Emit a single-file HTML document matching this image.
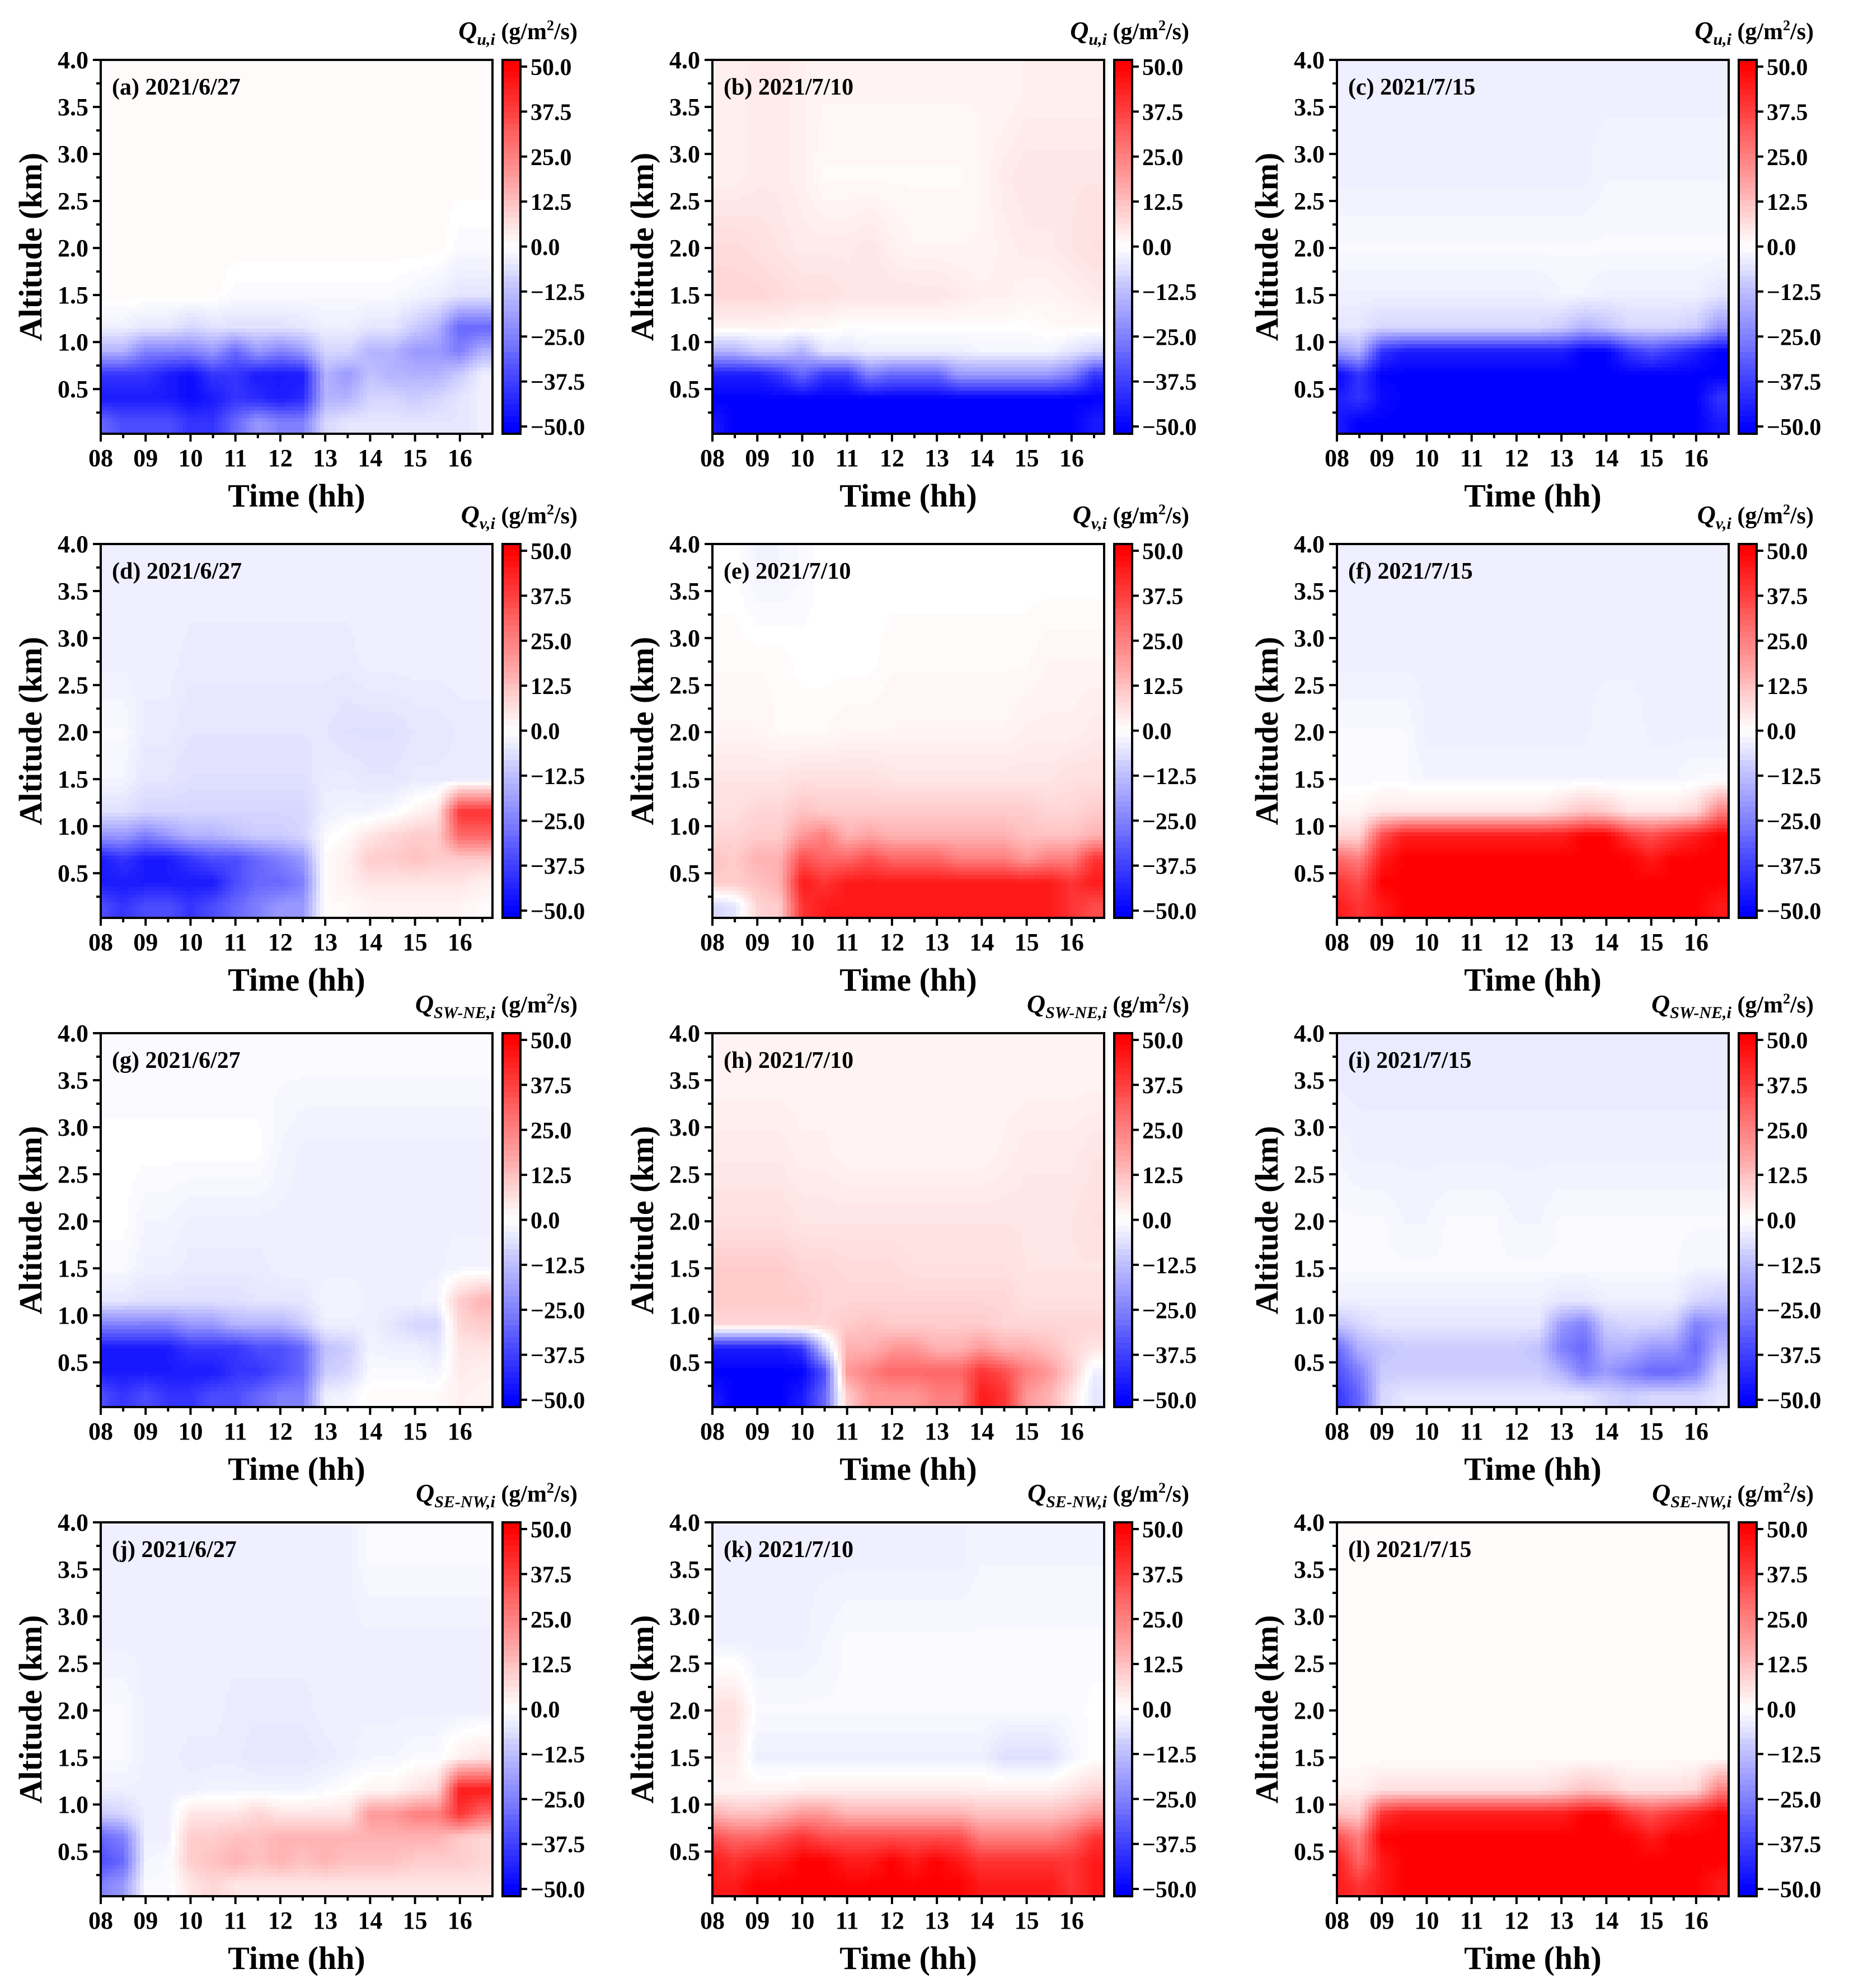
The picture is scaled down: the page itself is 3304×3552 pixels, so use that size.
<!DOCTYPE html>
<html><head><meta charset="utf-8">
<style>
html,body{margin:0;padding:0;background:#fff;}
svg{display:block;}
text{font-family:"Liberation Serif","Times New Roman",serif;font-weight:bold;fill:#000;}
</style></head>
<body>
<svg id="fig" width="3304" height="3552" viewBox="0 0 3304 3552" xmlns="http://www.w3.org/2000/svg"></svg>
<script>
const times=[8,8.5,9,9.5,10,10.5,11,11.5,12,12.5,13,13.5,14,14.5,15,15.5,16,16.5];
const alts=[0.15,0.4,0.65,0.9,1.15,1.5,2.0,2.75,3.6];
const xTickLabels=['08','09','10','11','12','13','14','15','16'];
const yTickLabels=['0.5','1.0','1.5','2.0','2.5','3.0','3.5','4.0'];
const cbTickValues=[50,37.5,25,12.5,0,-12.5,-25,-37.5,-50];
const cbTickLabels=['50.0','37.5','25.0','12.5','0.0','\u221212.5','\u221225.0','\u221237.5','\u221250.0'];
const dates=['2021/6/27','2021/7/10','2021/7/15'];
const fluxSubs=['u,i','v,i','SW-NE,i','SE-NW,i'];

const quJun27=[
[-30,-35,-35,-35,-40,-40,-30,-20,-25,-25,-8,-5,-5,-5,-5,-5,-5,-3],
[-45,-45,-45,-45,-48,-45,-40,-42,-45,-42,-15,-15,-8,-8,-10,-8,-5,-3],
[-40,-40,-40,-45,-48,-40,-40,-45,-45,-45,-15,-20,-12,-15,-15,-15,-10,-3],
[-15,-15,-25,-25,-25,-20,-30,-20,-25,-20,-8,-8,-15,-15,-20,-20,-25,-15],
[-3,-3,-5,-5,-8,-6,-6,-6,-6,-5,-3,-3,-5,-5,-10,-15,-30,-30],
[1,1,1,1,1,1,-1,-1,-1,-1,-1,-1,-1,-1,-2,-3,-5,-5],
[1,1,1,1,1,1,1,1,1,1,1,1,1,1,1,1,-1,-1],
[1,1,1,1,1,1,1,1,1,1,1,1,1,1,1,1,1,1],
[1,1,1,1,1,1,1,1,1,1,1,1,1,1,1,1,1,1]];
const quJul10=[
[-45,-50,-50,-50,-50,-50,-50,-50,-50,-50,-50,-50,-50,-50,-50,-50,-50,-45],
[-50,-50,-50,-50,-50,-50,-50,-50,-50,-50,-50,-50,-50,-50,-50,-50,-50,-50],
[-45,-45,-45,-40,-30,-40,-40,-25,-30,-30,-30,-20,-20,-20,-20,-20,-25,-40],
[-15,-15,-10,-10,-15,-5,-5,-3,-3,-3,-3,-3,-2,-2,-2,-2,-5,-8],
[2,2,2,2,1,1,0,0,0,0,0,0,0,0,0,1,1,1],
[8,8,8,7,6,6,5,5,5,5,5,4,3,3,2,2,3,4],
[7,7,6,5,4,4,4,5,3,2,2,2,2,3,4,4,5,6],
[3,3,4,4,3,1,1,1,1,1,1,1,2,4,5,5,5,5],
[3,3,4,4,3,2,2,2,2,2,2,2,2,2,3,3,3,3]];
const quJul15=[
[-45,-50,-50,-50,-50,-50,-50,-50,-50,-50,-50,-50,-50,-50,-50,-50,-50,-45],
[-45,-40,-48,-50,-50,-50,-50,-50,-50,-50,-50,-50,-50,-50,-50,-50,-50,-40],
[-50,-40,-50,-50,-50,-50,-50,-50,-50,-50,-50,-50,-50,-50,-50,-50,-50,-50],
[-20,-15,-40,-45,-45,-45,-45,-45,-45,-45,-45,-50,-50,-40,-35,-40,-45,-50],
[-5,-5,-8,-8,-8,-8,-8,-8,-8,-8,-10,-15,-12,-8,-8,-8,-10,-20],
[-3,-3,-3,-3,-3,-3,-3,-3,-3,-3,-2,-2,-3,-3,-3,-3,-3,-5],
[-1,-1,-1,-1,-1,-1,-1,-1,-1,-1,-1,-1,-1,-1,-1,-1,-1,-1],
[-3,-3,-3,-3,-3,-3,-3,-3,-3,-3,-3,-3,-2,-2,-2,-2,-2,-2],
[-3,-3,-3,-3,-3,-3,-3,-3,-3,-3,-3,-3,-3,-3,-3,-3,-3,-3]];
const qvJun27=[
[-35,-40,-35,-35,-40,-35,-30,-25,-20,-20,1,1,2,2,2,2,2,1],
[-45,-45,-45,-45,-45,-45,-35,-30,-30,-25,1,3,5,5,5,5,5,3],
[-45,-40,-45,-45,-40,-35,-35,-30,-25,-20,1,3,10,10,12,10,10,10],
[-20,-20,-25,-20,-15,-15,-12,-10,-10,-8,-1,1,5,8,10,10,30,30],
[-6,-6,-8,-8,-8,-8,-8,-8,-8,-8,-3,-2,-2,-1,2,5,40,40],
[-2,-2,-5,-5,-6,-6,-6,-6,-6,-6,-4,-4,-5,-5,-4,-4,-4,-4],
[-1,-1,-4,-4,-5,-5,-5,-5,-5,-5,-5,-6,-6,-6,-5,-5,-4,-4],
[-3,-3,-3,-3,-4,-4,-4,-4,-4,-4,-4,-4,-3,-3,-3,-3,-3,-3],
[-3,-3,-3,-3,-3,-3,-3,-3,-3,-3,-3,-3,-3,-3,-3,-3,-3,-3]];
const qvJul10=[
[-8,-5,8,10,40,45,45,45,45,45,45,45,45,45,45,45,40,35],
[10,10,12,15,45,40,45,45,45,45,45,45,45,45,45,45,40,45],
[12,10,15,15,35,30,30,35,30,30,30,25,25,25,20,25,25,40],
[8,8,10,10,20,25,15,18,15,15,15,15,15,15,12,12,12,15],
[6,6,8,8,12,10,10,10,10,10,10,10,10,10,10,8,8,10],
[5,5,5,5,6,6,6,6,5,5,5,5,5,5,5,5,6,6],
[2,2,2,1,1,1,2,2,2,2,2,2,2,2,3,3,3,4],
[1,1,1,1,0,0,0,0,1,1,1,1,1,1,1,2,2,2],
[0,0,-2,-2,-1,0,0,0,0,0,0,0,0,0,0,0,0,0]];
const qvJul15=[
[45,40,45,50,50,50,50,50,50,50,50,50,50,50,50,50,50,45],
[40,35,50,50,50,50,50,50,50,50,50,50,50,50,50,50,50,50],
[30,25,45,50,50,50,50,50,50,50,50,50,50,50,45,50,50,50],
[8,8,35,45,45,45,45,45,45,45,45,50,50,40,35,40,45,50],
[2,2,5,5,5,5,5,5,5,5,8,12,10,5,5,5,8,25],
[-1,-1,-1,-1,-2,-2,-2,-2,-2,-2,-2,-2,-2,-2,-2,-2,-1,-1],
[-1,-1,-1,-1,-3,-3,-3,-3,-3,-3,-3,-3,-2,-2,-3,-3,-3,-3],
[-3,-3,-3,-3,-3,-3,-3,-3,-3,-3,-3,-3,-3,-3,-3,-3,-3,-3],
[-3,-3,-3,-3,-3,-3,-3,-3,-3,-3,-3,-3,-3,-3,-3,-3,-3,-3]];
const qswJun27=[
[-35,-40,-35,-40,-40,-35,-35,-30,-25,-25,-3,-2,1,1,1,1,3,2],
[-45,-45,-45,-45,-45,-45,-40,-40,-35,-30,-10,-8,-1,-1,-1,-2,4,3],
[-45,-45,-45,-45,-40,-40,-40,-35,-35,-30,-12,-10,-2,-3,-3,-5,5,5],
[-25,-25,-25,-25,-20,-20,-15,-15,-15,-10,-3,-3,-3,-5,-8,-8,8,10],
[-5,-5,-6,-6,-6,-6,-6,-5,-5,-5,-2,-2,-3,-3,-3,-2,10,15],
[-1,-1,-3,-3,-4,-4,-4,-4,-3,-3,-3,-3,-3,-3,-3,-3,-2,-2],
[0,0,-2,-2,-3,-3,-3,-3,-3,-3,-3,-3,-3,-3,-3,-3,-3,-3],
[0,0,0,0,0,0,0,0,-2,-3,-3,-3,-3,-3,-3,-3,-3,-3],
[-1,-1,-1,-1,-1,-1,-1,-1,-1,-1,-1,-1,-1,-1,-1,-1,-1,-1]];
const qswJul10=[
[-45,-50,-50,-50,-45,-30,10,20,20,20,25,25,45,40,20,15,5,-5],
[-50,-50,-50,-50,-50,-35,20,25,30,30,30,30,40,35,25,20,10,-3],
[-45,-45,-45,-45,-40,-10,15,15,20,20,15,15,20,15,15,12,8,5],
[8,8,8,8,8,8,10,12,10,10,10,10,10,8,8,8,8,8],
[10,10,10,10,10,8,8,8,8,8,8,8,8,8,6,6,6,6],
[10,10,10,10,8,8,7,7,7,6,6,6,6,6,5,5,5,5],
[6,6,6,6,5,5,5,5,5,5,5,5,5,5,5,5,5,6],
[4,4,4,4,3,3,2,2,2,2,2,2,2,3,4,4,4,5],
[2,2,2,2,2,2,2,2,2,2,2,2,2,2,2,2,2,2]];
const qswJul15=[
[-40,-30,-8,-5,-5,-5,-5,-5,-5,-5,-5,-5,-8,-10,-8,-8,-8,-5],
[-35,-25,-10,-10,-10,-10,-10,-10,-10,-10,-15,-25,-20,-25,-30,-30,-25,-8],
[-30,-15,-12,-10,-10,-10,-10,-10,-10,-12,-25,-30,-15,-15,-20,-20,-30,-15],
[-12,-8,-5,-5,-5,-5,-5,-5,-5,-5,-20,-25,-10,-8,-8,-10,-25,-20],
[-3,-3,-3,-3,-3,-3,-3,-3,-3,-3,-5,-5,-3,-3,-3,-3,-8,-10],
[-1,-1,-1,-1,-1,-1,-1,-1,-1,-1,-1,-1,-1,-1,-1,-1,-2,-2],
[-1,-1,-1,-2,-2,-1,-1,-1,-2,-2,-1,-1,-1,-1,-1,-1,-1,-1],
[-2,-3,-3,-3,-3,-3,-3,-3,-3,-3,-3,-3,-3,-3,-3,-3,-3,-3],
[-4,-4,-4,-4,-4,-4,-4,-4,-4,-4,-4,-4,-4,-4,-4,-4,-4,-4]];
const qseJun27=[
[-25,-20,-1,-1,5,8,5,5,5,5,5,5,5,5,5,5,5,5],
[-35,-30,-2,-1,10,12,15,12,15,12,15,12,12,12,10,10,10,8],
[-30,-25,-3,-3,10,10,12,12,15,15,15,15,15,15,15,15,10,8],
[-10,-8,-3,-3,5,5,5,8,5,5,5,5,20,20,25,25,40,30],
[-3,-3,-3,-3,-3,-2,-2,-2,-2,-2,-1,0,2,2,5,8,45,45],
[-1,-1,-3,-3,-4,-4,-4,-5,-5,-5,-4,-3,-2,-2,-1,-1,3,5],
[-1,-1,-3,-3,-3,-3,-4,-4,-4,-4,-3,-3,-3,-3,-3,-3,-3,-3],
[-3,-3,-3,-3,-3,-3,-3,-3,-3,-3,-3,-3,-3,-3,-3,-3,-3,-3],
[-3,-3,-3,-3,-3,-3,-3,-3,-3,-3,-3,-3,-1,-1,-1,-1,-1,-1]];
const qseJul10=[
[45,45,50,50,50,50,50,50,50,50,50,50,45,45,45,45,40,45],
[45,40,45,45,50,50,45,45,50,45,50,45,40,40,40,40,40,45],
[35,30,30,35,40,35,35,35,35,35,35,35,25,25,25,25,30,40],
[15,12,12,15,20,20,15,15,15,15,15,15,12,12,12,12,15,20],
[2,2,2,2,3,3,3,3,3,3,3,3,3,3,3,3,5,8],
[4,4,-3,-3,-3,-3,-3,-3,-3,-3,-3,-3,-3,-6,-6,-6,-2,0],
[6,6,-1,-1,-1,-1,-1,-1,-1,-1,-1,-1,-1,-1,-1,-1,-1,0],
[-3,-3,-3,-3,-3,-2,-1,-1,-1,-1,-1,-1,-1,-1,-1,-1,-1,-1],
[-3,-3,-3,-3,-3,-3,-3,-3,-3,-3,-3,-3,-2,-2,-2,-2,-2,-2]];
const qseJul15=[
[45,40,45,50,50,50,50,50,50,50,50,50,50,50,50,50,50,45],
[45,30,45,50,50,50,50,50,50,50,50,50,50,50,50,50,50,50],
[35,25,50,50,50,50,50,50,50,50,50,50,50,50,45,50,50,50],
[12,10,40,45,45,45,45,45,45,45,45,50,50,40,35,40,45,50],
[3,3,6,6,6,6,6,6,6,6,8,12,10,6,6,6,8,25],
[0.5,0.5,0.5,0.5,0.5,0.5,0.5,0.5,0.5,0.5,0.5,0.5,0.5,0.5,0.5,0.5,0.5,0.5],
[0.5,0.5,0.5,0.5,0.5,0.5,0.5,0.5,0.5,0.5,0.5,0.5,0.5,0.5,0.5,0.5,0.5,0.5],
[0.5,0.5,0.5,0.5,0.5,0.5,0.5,0.5,0.5,0.5,0.5,0.5,0.5,0.5,0.5,0.5,0.5,0.5],
[0.5,0.5,0.5,0.5,0.5,0.5,0.5,0.5,0.5,0.5,0.5,0.5,0.5,0.5,0.5,0.5,0.5,0.5]];

const panelData=[quJun27,quJul10,quJul15,qvJun27,qvJul10,qvJul15,qswJun27,qswJul10,qswJul15,qseJun27,qseJul10,qseJul15];
const letters='abcdefghijkl';

const NS='http://www.w3.org/2000/svg';
const svg=document.getElementById('fig');
const colLeft=[180,1273,2389];
const rowTop=[107,972,1846,2720];
const PW=700, PH=668;
const T0=8, T1=16.725, Z0=0.025, Z1=4.0;

function mk(tag,attrs,parent){const e=document.createElementNS(NS,tag);for(const k in attrs)e.setAttribute(k,attrs[k]);(parent||svg).appendChild(e);return e;}
function colorOf(v){
  v=Math.max(-50,Math.min(50,v));
  v=Math.round(v/0.78125)*0.78125;
  let r,g,b;
  if(v>=0){r=255;g=b=Math.round(255*(1-v/50));}
  else{b=255;r=g=Math.round(255*(1+v/50));}
  return 'rgb('+r+','+g+','+b+')';
}
function interp(grid,t,z){
  let i=0;while(i<times.length-2&&t>times[i+1])i++;
  let fx=(t-times[i])/(times[i+1]-times[i]);fx=Math.max(0,Math.min(1,fx));
  let j=0;while(j<alts.length-2&&z>alts[j+1])j++;
  let fy=(z-alts[j])/(alts[j+1]-alts[j]);fy=Math.max(0,Math.min(1,fy));
  const a=grid[j][i],b=grid[j][i+1],c=grid[j+1][i],d=grid[j+1][i+1];
  return (a*(1-fx)+b*fx)*(1-fy)+(c*(1-fx)+d*fx)*fy;
}

for(let p=0;p<12;p++){
  const row=Math.floor(p/3),col=p%3;
  const L=colLeft[col],T=rowTop[row];
  const xS=t=>L+(t-T0)/(T1-T0)*PW;
  const yS=z=>T+(Z1-z)/(Z1-Z0)*PH;
  const grid=panelData[p];
  const g=mk('g',{});
  
  
  const hm=mk('g',{'shape-rendering':'crispEdges'},g);
  
  
  const nx=100,ny=96;
  for(let jy=0;jy<ny;jy++){
    const y0=T+jy*PH/ny,y1=T+(jy+1)*PH/ny;
    const z=Z1-(jy+0.5)/ny*(Z1-Z0);
    let runStart=0,runCol=null;
    for(let ix=0;ix<=nx;ix++){
      let c=null;
      if(ix<nx){const t=T0+(ix+0.5)/nx*(T1-T0);c=colorOf(interp(grid,t,z));}
      if(c!==runCol){
        if(runCol!==null){
          const x0=L+runStart*PW/nx,x1=L+ix*PW/nx;
          const r=mk('rect',{x:x0.toFixed(1),y:y0.toFixed(1),width:(x1-x0+0.8).toFixed(1),height:(y1-y0+0.8).toFixed(1),fill:runCol},hm);
          
          
        }
        runStart=ix;runCol=c;
      }
    }
  }
  const fr=mk('rect',{x:L,y:T,width:PW,height:PH,fill:'none',stroke:'#000','stroke-width':4},g);
  
  
  for(let k=0;k<yTickLabels.length;k++){
    const v=parseFloat(yTickLabels[k]);const y=yS(v);
    mk('line',{x1:L-14,x2:L,y1:y,y2:y,stroke:'#000','stroke-width':4},g);
    const tx=mk('text',{x:L-22,y:y+15,'text-anchor':'end','font-size':44},g);
    tx.textContent=yTickLabels[k];
    
    
    const ym=yS(v-0.25);
    mk('line',{x1:L-8,x2:L,y1:ym,y2:ym,stroke:'#000','stroke-width':4},g);
  }
  mk('line',{x1:L-8,x2:L,y1:yS(3.75),y2:yS(3.75),stroke:'#000','stroke-width':4},g);
  for(let k=0;k<xTickLabels.length;k++){
    const t=8+k;const x=xS(t);
    mk('line',{x1:x,x2:x,y1:T+PH,y2:T+PH+14,stroke:'#000','stroke-width':4},g);
    const tx=mk('text',{x:x,y:T+PH+58,'text-anchor':'middle','font-size':44},g);
    tx.textContent=xTickLabels[k];
    
    
    const xm=xS(t+0.5);
    mk('line',{x1:xm,x2:xm,y1:T+PH,y2:T+PH+8,stroke:'#000','stroke-width':4},g);
  }
  const yt=mk('text',{x:0,y:0,'text-anchor':'middle','font-size':58,transform:'translate('+(L-106)+','+(T+PH/2)+') rotate(-90)'},g);
  yt.textContent='Altitude (km)';
  
  
  const xt=mk('text',{x:L+PW/2,y:T+PH+130,'text-anchor':'middle','font-size':58},g);
  xt.textContent='Time (hh)';
  
  
  const pl=mk('text',{x:L+20,y:T+62,'font-size':42},g);
  pl.textContent='('+letters[p]+') '+dates[col];
  
  
  const cbL=L+PW+18,cbW=32,cbT=T,cbH=PH;
  const cbS=v=>cbT+12+(50-v)/100*(cbH-25);
  const cb=mk('g',{'shape-rendering':'crispEdges'},g);
  
  
  const nb=64;
  for(let b=0;b<nb;b++){
    const y0=cbT+b*cbH/nb,y1=cbT+(b+1)*cbH/nb;
    const v=50-((y0+y1)/2-cbT-12)/(cbH-25)*100;
    mk('rect',{x:cbL,y:y0.toFixed(1),width:cbW,height:(y1-y0+0.8).toFixed(1),fill:colorOf(v)},cb);
  }
  mk('rect',{x:cbL,y:cbT,width:cbW,height:cbH,fill:'none',stroke:'#000','stroke-width':4},g);
  for(let k=0;k<cbTickValues.length;k++){
    const y=cbS(cbTickValues[k]);
    mk('line',{x1:cbL+cbW,x2:cbL+cbW+12,y1:y,y2:y,stroke:'#000','stroke-width':4},g);
    const tx=mk('text',{x:cbL+cbW+18,y:y+15,'font-size':42},g);
    tx.textContent=cbTickLabels[k];
    
    
  }
  const ct=mk('text',{x:L+PW+152,y:T-37,'text-anchor':'end','font-size':42},g);
  
  
  const s1=mk('tspan',{'font-style':'italic','font-size':46},ct);s1.textContent='Q';
  const s2=mk('tspan',{'font-style':'italic','font-size':30,dy:10},ct);s2.textContent=fluxSubs[row];
  const s3=mk('tspan',{dy:-10},ct);s3.textContent=' (g/m';
  const s4=mk('tspan',{'font-size':26,dy:-16},ct);s4.textContent='2';
  const s5=mk('tspan',{dy:16},ct);s5.textContent='/s)';
}
</script>
</body></html>
